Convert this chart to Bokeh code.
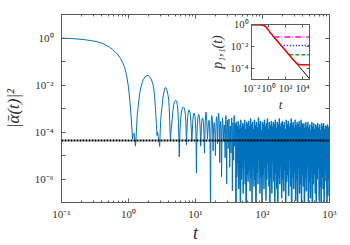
from bokeh.plotting import figure
from bokeh.models import LogAxis, FixedTicker, CustomJSTickFormatter, Span, Range1d, ColumnDataSource
from bokeh.layouts import column
from bokeh.embed import file_html
from bokeh.resources import INLINE

# ---------------- data ----------------
# main curve, early coherent part: t and log10(|alpha|^2)
t_decay = [0.1, 0.13, 0.17, 0.22, 0.28, 0.34, 0.4, 0.46, 0.52, 0.58, 0.64, 0.7, 0.76, 0.82,
           0.88, 0.94, 1.0, 1.05, 1.1, 1.15, 1.18, 1.21, 1.24, 1.27, 1.3, 1.35, 1.4, 1.47,
           1.57, 1.67, 1.77, 1.87, 1.97, 2.07, 2.17, 2.25, 2.33, 2.42, 2.52, 2.6, 2.67, 2.72,
           2.78, 2.85, 2.92, 2.98, 3.06, 3.16, 3.25, 3.35, 3.45, 3.54, 3.63, 3.75, 3.87, 3.97,
           4.05, 4.12, 4.19, 4.25, 4.3, 4.38, 4.49, 4.62, 4.75, 4.88, 5.0, 5.13, 5.25, 5.37,
           5.48, 5.57, 5.65, 5.72, 5.78, 5.85, 5.95, 6.05, 6.2, 6.4, 6.6, 6.8, 6.95, 7.08,
           7.18, 7.27, 7.33, 7.4, 7.5, 7.62, 7.78, 7.95, 8.1, 8.25, 8.4, 8.55, 8.68, 8.8,
           8.88, 8.95, 9.05, 9.2, 9.4, 9.6, 9.8, 9.95, 10.1, 10.22, 10.32, 10.4]
lg_decay = [-0.01, -0.015, -0.04, -0.07, -0.115, -0.16, -0.22, -0.3, -0.39, -0.49, -0.6, -0.72,
            -0.87, -1.05, -1.27, -1.6, -2.1, -2.7, -3.45, -4.3, -4.1, -4.05, -4.3, -4.6, -4.2,
            -3.3, -2.86, -2.35, -1.97, -1.76, -1.65, -1.6, -1.6, -1.65, -1.74, -1.85, -1.99,
            -2.3, -2.95, -3.6, -4.15, -4.0, -4.2, -4.4, -4.62, -3.9, -3.3, -2.95, -2.6, -2.35,
            -2.18, -2.11, -2.13, -2.22, -2.4, -2.6, -2.95, -3.5, -4.1, -4.35, -3.95, -3.8,
            -3.45, -3.05, -2.82, -2.7, -2.66, -2.66, -2.72, -2.88, -3.15, -3.6, -4.3, -5.06,
            -4.5, -4.0, -3.6, -3.35, -3.1, -2.97, -2.93, -2.98, -3.1, -3.3, -3.6, -4.1, -4.55,
            -4.2, -3.75, -3.4, -3.18, -3.07, -3.07, -3.15, -3.3, -3.6, -4.0, -4.4, -4.3, -4.0,
            -3.7, -3.4, -3.22, -3.2, -3.3, -3.5, -3.9, -4.6, -5.74, -4.8]

# main curve, beating part
t_beat = [10.5, 10.65, 10.9, 11.2, 11.5, 11.75, 11.95, 12.05, 12.25, 12.55, 12.85, 13.15, 13.4,
          13.6, 13.75, 14.0, 14.3, 14.6, 14.85, 15.1, 15.3, 15.6, 15.9, 16.2, 16.5, 16.75,
          16.95, 17.2, 17.5, 17.8, 18.1, 18.3, 18.5, 18.75, 19.0, 19.3, 19.6, 19.85, 20.1,
          20.4, 20.7, 21.0, 21.3, 21.5, 21.8, 22.2, 22.6, 23.0, 23.3, 23.7, 24.1, 24.5, 24.9,
          25.3, 25.7, 26.1, 26.5, 26.9, 27.3, 27.7, 28.05, 28.4, 28.8, 29.2, 29.6, 30.0,
          30.4, 30.8, 31.2, 31.6, 32.0, 32.4, 32.8, 33.1, 33.5, 33.9, 34.3, 34.7, 35.1, 35.5,
          35.9, 36.3, 36.7, 37.1, 37.5, 37.8, 38.2, 38.6, 39.0, 39.4, 39.8, 40.2]
lg_beat = [-4.2, -3.7, -3.35, -3.25, -3.4, -3.9, -4.6, -4.3, -3.75, -3.45, -3.4, -3.6, -4.1,
           -4.9, -4.4, -3.5, -3.15, -3.3, -3.8, -4.3, -4.0, -3.6, -3.5, -3.75, -4.5, -7.5,
           -4.4, -3.5, -3.3, -3.45, -4.0, -4.8, -4.1, -3.75, -3.6, -3.8, -4.3, -5.0, -4.0,
           -3.45, -3.35, -3.6, -4.5, -4.2, -3.5, -3.2, -3.6, -5.3, -4.0, -3.55, -3.9, -5.9,
           -3.9, -3.4, -3.7, -4.4, -3.9, -3.7, -4.1, -5.1, -3.9, -3.3, -3.8, -6.2, -4.0, -3.5,
           -4.0, -4.7, -3.8, -3.45, -4.2, -5.5, -3.9, -3.75, -4.3, -4.9, -3.7, -3.4, -4.0,
           -6.5, -4.1, -3.6, -4.4, -5.2, -3.8, -3.3, -4.6, -4.6, -3.9, -3.65, -4.8, -7.3]

# main curve, fluctuating long-time part (t and log10 values, in five stretches)
t_noise_a = [40.5, 41.2, 41.9, 42.6, 43.3, 44, 44.7, 45.4, 46.1, 46.8,
             47.5, 48.3, 49.1, 49.9, 50.7, 51.5, 52.4, 53.3, 54.2, 55.1,
             56, 57, 58, 59, 60]
lg_noise_a = [-3.6, -5.9, -3.8, -5.3, -3.55, -6.4, -3.9, -5.7, -3.7, -7.2,
              -3.5, -6.0, -3.85, -5.5, -3.65, -6.6, -3.75, -4.9, -3.5, -6.2,
              -3.9, -7.6, -3.6, -5.8, -3.7]
t_noise_b = [61, 62, 63, 64.1, 65.2, 66.3, 67.4, 68.5, 69.7, 70.9,
             72.1, 73.3, 74.6, 75.9, 77.2, 78.5, 79.9, 81.3, 82.7, 84.1,
             85.6, 87.1, 88.6, 90.1, 91.7, 93.3, 94.9, 96.5, 98.2, 100]
lg_noise_b = [-6.1, -3.55, -5.6, -3.8, -6.5, -3.45, -5.9, -3.7, -7.0, -3.6,
              -5.4, -3.9, -6.3, -3.5, -6.0, -3.75, -7.8, -3.6, -5.7, -3.85,
              -6.2, -3.4, -5.1, -3.7, -6.6, -3.55, -5.9, -3.95, -7.1, -3.6]
t_noise_c = [101.7, 103.4, 105.2, 107, 108.8, 110.7, 112.6, 114.5, 116.5, 118.5,
             120.5, 122.6, 124.7, 126.8, 129, 131.2, 133.4, 135.7, 138, 140.4,
             142.8, 145.2, 147.7, 150.2, 152.8, 155.4, 158, 160.7, 163.5, 166.3,
             169.1, 172, 175, 178, 181, 184, 187, 190, 193.5, 197, 200]
lg_noise_c = [-5.8, -3.7, -6.4, -3.5, -5.5, -3.8, -6.9, -3.65, -6.0, -3.45,
              -5.3, -3.9, -6.3, -3.6, -7.4, -3.75, -5.9, -3.55, -6.6, -3.8,
              -4.8, -3.6, -6.1, -3.7, -7.1, -3.5, -5.7, -3.85, -6.4, -3.6,
              -8.0, -3.7, -5.9, -3.45, -6.2, -3.8, -5.4, -3.65, -6.8, -3.55, -6.0]
t_noise_d = [203.5, 207, 210.5, 214, 218, 222, 226, 230, 234, 238,
             242, 246, 250, 254.5, 259, 263.5, 268, 272.5, 277, 282,
             287, 292, 297, 302, 307, 312, 317.5, 323, 328.5, 334,
             340, 346, 352, 358, 364, 370, 376, 382.5, 389, 395.5, 402]
lg_noise_d = [-3.75, -6.5, -3.6, -5.6, -3.9, -7.3, -3.5, -6.1, -3.7, -5.8,
              -3.55, -6.7, -3.8, -5.2, -3.65, -6.3, -3.45, -7.7, -3.7, -5.9,
              -3.6, -6.4, -3.85, -5.7, -3.5, -6.9, -3.75, -6.0, -3.6, -7.5,
              -3.7, -5.5, -3.55, -6.6, -3.8, -6.2, -3.5, -7.0, -3.65, -5.8, -3.7]
t_noise_e = [409, 416, 423, 430, 437, 444.5, 452, 460, 468, 476,
             484, 492, 500.5, 509, 518, 527, 536, 545, 554, 563.5,
             573, 583, 593, 603, 613, 623.5, 634, 645, 656, 667,
             678.5, 690, 702, 714, 726, 738.5, 751, 764, 777, 790,
             803.5, 817, 831, 845, 859, 873.5, 888, 903, 918, 933.5,
             949, 965, 981, 997]
lg_noise_e = [-6.3, -3.65, -7.6, -3.85, -5.9, -3.6, -6.5, -3.8, -5.4, -3.6,
              -7.1, -3.85, -6.1, -3.7, -6.8, -3.95, -5.7, -3.6, -7.9, -3.8,
              -6.2, -3.65, -5.8, -3.9, -6.6, -3.7, -7.3, -3.8, -6.0, -3.65,
              -5.5, -3.85, -6.9, -3.7, -6.3, -3.95, -7.7, -3.65, -5.9, -3.8,
              -6.4, -3.65, -7.2, -3.9, -6.1, -3.75, -5.6, -3.8, -7.5, -3.7,
              -6.7, -3.85, -6.0, -3.75]

mean_level = 4.3e-5  # dotted horizontal line

# inset: p_{1,1}(t)
inset_t = [0.01, 0.1, 0.2, 0.3, 0.5, 1, 2, 5, 10, 100, 1000, 10000, 63000]
lg_p_black = [0.0, -0.004, -0.04, -0.09, -0.2, -0.52, -0.82, -1.22, -1.48, -2.4, -3.32, -4.24, -4.98]
red_t = [0.01, 0.1, 0.2, 0.3, 0.5, 1, 2, 5, 10, 100, 1000, 1500, 2000, 3000, 5000, 63000]
lg_p_red = [0.0, -0.004, -0.04, -0.09, -0.2, -0.52, -0.82, -1.22, -1.48, -2.4, -3.32, -3.47,
            -3.57, -3.65, -3.68, -3.68]
plateau_start = [3.6, 27, 275]          # magenta, blue, green
plateau_level = [0.072, 0.0123, 0.0017]
t_end = 63000

# ---------------- styling helpers ----------------
FONT = "Liberation Serif"
TXT = "#303030"
AX = "#5a5a5a"
BLUE = "#0072BD"

SUP_JS = """
const s = {"0":"\u2070","1":"\u00b9","2":"\u00b2","3":"\u00b3","4":"\u2074","5":"\u2075",
           "6":"\u2076","7":"\u2077","8":"\u2078","9":"\u2079","-":"\u207b"};
const e = Math.round(Math.log10(tick));
if (SKIP && Math.abs(e) % 2 == 1) { return ""; }
let r = "10";
for (const c of String(e)) { r += s[c]; }
return r;
"""


def fmt(skip_odd=False):
    return CustomJSTickFormatter(code=SUP_JS.replace("SKIP", "true" if skip_odd else "false"))


def blank():
    return CustomJSTickFormatter(code='return "";')


def style_axis(ax, ticker, formatter, size="11px", tin=4, minor_in=2):
    ax.ticker = ticker
    ax.formatter = formatter
    ax.axis_line_color = AX
    ax.axis_line_width = 1
    ax.major_tick_line_color = AX
    ax.minor_tick_line_color = AX
    ax.major_tick_in = tin
    ax.major_tick_out = 0
    ax.minor_tick_in = minor_in
    ax.minor_tick_out = 0
    ax.major_label_text_font = FONT
    ax.major_label_text_font_size = size
    ax.major_label_text_color = TXT
    ax.axis_label_text_font = FONT
    ax.axis_label_text_color = TXT
    ax.axis_label_text_font_style = "italic"


# ---------------- main figure ----------------
x_major = [10.0 ** k for k in range(-1, 4)]
x_minor = [m * 10.0 ** k for k in range(-1, 3) for m in range(2, 10)]
y_major = [10.0 ** k for k in range(-7, 2)]

MAIN_W, MAIN_H = 345, 245
p = figure(width=MAIN_W, height=MAIN_H, x_axis_type="log", y_axis_type="log",
           x_range=Range1d(0.1, 1000), y_range=Range1d(1e-7, 10),
           output_backend="svg", toolbar_location=None,
           min_border_left=57, min_border_right=16, min_border_top=14, min_border_bottom=38)
p.grid.visible = False
p.outline_line_color = AX
p.background_fill_color = "white"
p.border_fill_color = "white"

style_axis(p.xaxis[0], FixedTicker(ticks=x_major, minor_ticks=x_minor), fmt(False))
style_axis(p.yaxis[0], FixedTicker(ticks=y_major, minor_ticks=[]), fmt(True))
p.xaxis[0].axis_label = "t"
p.xaxis[0].axis_label_text_font_size = "18px"
p.xaxis[0].axis_label_standoff = 0
p.xaxis[0].major_label_standoff = 5
p.yaxis[0].axis_label = "|\u1fb1(t)|\u00b2"
p.yaxis[0].axis_label_text_font_size = "17px"
p.yaxis[0].axis_label_standoff = 9
p.yaxis[0].major_label_standoff = 8

top_ax = LogAxis()
style_axis(top_ax, FixedTicker(ticks=x_major, minor_ticks=x_minor), blank())
top_ax.major_label_standoff = 0
p.add_layout(top_ax, "above")
right_ax = LogAxis()
style_axis(right_ax, FixedTicker(ticks=y_major, minor_ticks=[]), blank())
right_ax.major_label_standoff = 0
p.add_layout(right_ax, "right")

# early part with a thin line, dense fluctuating part with a slightly heavier stroke
t_early = t_decay + t_beat
lg_early = lg_decay + lg_beat
src = ColumnDataSource(dict(t=t_early, y=[10.0 ** v for v in lg_early]))
p.line("t", "y", source=src, line_color=BLUE, line_width=1)

t_late = t_beat[-1:] + t_noise_a + t_noise_b + t_noise_c + t_noise_d + t_noise_e
lg_late = lg_beat[-1:] + lg_noise_a + lg_noise_b + lg_noise_c + lg_noise_d + lg_noise_e
src2 = ColumnDataSource(dict(t=t_late, y=[10.0 ** v for v in lg_late]))
p.line("t", "y", source=src2, line_color=BLUE, line_width=1.5, line_join="round")

p.add_layout(Span(location=mean_level, dimension="width", line_color="black",
                  line_width=2, line_dash="2 1"))

# ---------------- inset ----------------
ins = figure(width=135, height=96, x_axis_type="log", y_axis_type="log",
             x_range=Range1d(0.01, t_end), y_range=Range1d(8.9e-6, 1.05),
             output_backend="svg", toolbar_location=None,
             min_border_left=41, min_border_right=3, min_border_top=6, min_border_bottom=30)
ins.grid.visible = False
ins.outline_line_color = AX
ins.background_fill_color = "white"
ins.border_fill_alpha = 0

ix_major = [1e-2, 1.0, 1e2, 1e4]
iy_major = [1e-4, 1e-2, 1.0]
style_axis(ins.xaxis[0], FixedTicker(ticks=ix_major, minor_ticks=[]), fmt(False), size="10.5px", tin=3)
style_axis(ins.yaxis[0], FixedTicker(ticks=iy_major, minor_ticks=[]), fmt(False), size="10.5px", tin=3)
ins.xaxis[0].axis_label = "t"
ins.xaxis[0].axis_label_text_font_size = "13px"
ins.xaxis[0].axis_label_standoff = 0
ins.xaxis[0].major_label_standoff = 3
ins.yaxis[0].axis_label = "p\u2081,\u2081(t)"
ins.yaxis[0].axis_label_text_font_size = "14px"
ins.yaxis[0].axis_label_standoff = 2
ins.yaxis[0].major_label_standoff = 3
itop = LogAxis()
style_axis(itop, FixedTicker(ticks=ix_major, minor_ticks=[]), blank(), tin=3)
itop.major_label_standoff = 0
ins.add_layout(itop, "above")
iright = LogAxis()
style_axis(iright, FixedTicker(ticks=iy_major, minor_ticks=[]), blank(), tin=3)
iright.major_label_standoff = 0
ins.add_layout(iright, "right")

ins.line(inset_t, [10.0 ** v for v in lg_p_black], line_color="black", line_width=1)
styles = [("#ff00ff", "6 2 1 2"), ("#0000ff", "1 2"), ("#22a022", "4 2")]
for (col, dash), t0, lev in zip(styles, plateau_start, plateau_level):
    ins.line([t0, t_end], [lev, lev], line_color=col, line_width=1.5, line_dash=dash)
ins.line(red_t, [10.0 ** v for v in lg_p_red], line_color="red", line_width=1.5)

# place the inset on top of the main figure: inset canvas at page (190, 18)
ins.margin = (18 - MAIN_H, 0, 0, 190)

layout = column(p, ins)
open("out.html", "w", encoding="utf-8").write(file_html(layout, INLINE))
